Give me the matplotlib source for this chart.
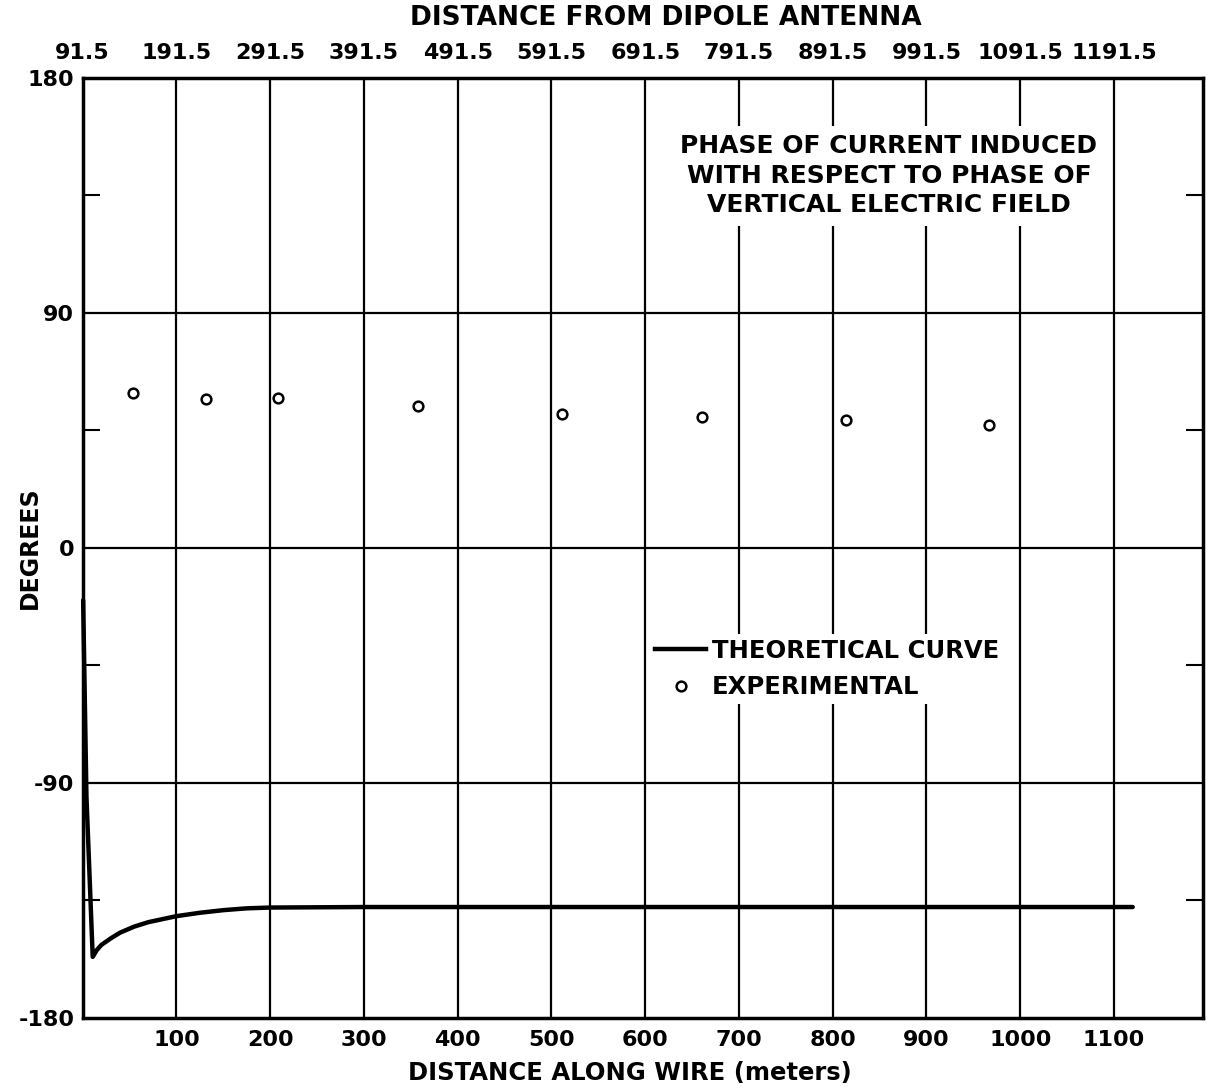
import matplotlib
matplotlib.use("Agg")
import matplotlib.pyplot as plt
from matplotlib.lines import Line2D

# ---- data ----
theory_x = [0.5, 4, 10.7, 15, 20, 30, 40, 55, 70, 100, 125, 150, 175, 200, 300, 600, 1120]
theory_y = [-20, -95, -156.6, -154, -152, -149.5, -147.3, -145, -143.3, -141, -139.7,
            -138.7, -138.0, -137.7, -137.5, -137.5, -137.5]

exp_x = [54, 132, 208, 358, 511, 661, 814, 967]
exp_y = [59.2, 56.9, 57.6, 54.2, 51.5, 50.2, 49.2, 47.1]

bottom_ticks = [100, 200, 300, 400, 500, 600, 700, 800, 900, 1000, 1100]
top_tick_pos = [0, 100, 200, 300, 400, 500, 600, 700, 800, 900, 1000, 1100]
top_tick_labels = ["91.5", "191.5", "291.5", "391.5", "491.5", "591.5", "691.5",
                   "791.5", "891.5", "991.5", "1091.5", "1191.5"]
y_major = [-180, -90, 0, 90, 180]
y_minor = [-135, -45, 45, 135]

plt.rcParams['font.family'] = ['DejaVu Sans']
TICK_FS = 16
NOTE_FS = 18
LEG_FS = 17.5

W, H = 1207, 1089
fig = plt.figure(figsize=(W / 100, H / 100), dpi=100)
ax = fig.add_axes([0.0685, 0.0652, 0.9282, 0.8632])

ax.set_xlim(0, 1195)
ax.set_ylim(-180, 180)

# grid
for gx in bottom_ticks:
    ax.axvline(gx, color='black', lw=1.6, zorder=1)
for gy in [-90, 0, 90]:
    ax.axhline(gy, color='black', lw=1.6, zorder=1)

for s in ax.spines.values():
    s.set_linewidth(2.5)

ax.set_xticks(bottom_ticks)
ax.set_xticklabels([str(t) for t in bottom_ticks], fontsize=TICK_FS, fontweight='bold')
ax.tick_params(axis='x', length=0, pad=9)

ax.set_yticks(y_major)
ax.set_yticklabels([str(t) for t in y_major], fontsize=TICK_FS, fontweight='bold')
ax.tick_params(axis='y', which='major', length=0, pad=6)
ax.set_yticks(y_minor, minor=True)
ax.tick_params(axis='y', which='minor', direction='in', length=12, width=1.5,
               left=True, right=True)

# top axis
ax2 = ax.secondary_xaxis('top')
ax2.set_xticks(top_tick_pos)
ax2.set_xticklabels(top_tick_labels, fontsize=TICK_FS, fontweight='bold')
ax2.tick_params(axis='x', length=0, pad=11)

fig.text(666 / W, 1 - 18 / H, "DISTANCE FROM DIPOLE ANTENNA", ha='center', va='center',
         fontsize=19, fontweight='bold')
fig.text(630 / W, 1 - 1073 / H, "DISTANCE ALONG WIRE (meters)", ha='center', va='center',
         fontsize=17.5, fontweight='bold')
ax.set_ylabel("DEGREES", fontsize=17, fontweight='bold')
ax.yaxis.set_label_coords(-0.036, 0.5)

# data
ax.plot(theory_x, theory_y, color='black', lw=3.2, solid_capstyle='round',
        solid_joinstyle='round', zorder=3, clip_on=False)
ax.plot(exp_x, exp_y, linestyle='none', marker='o', markersize=7, mfc='white',
        mec='black', mew=1.8, zorder=4)

# annotation text
ax.text(0.7197, 0.896, "PHASE OF CURRENT INDUCED\nWITH RESPECT TO PHASE OF\nVERTICAL ELECTRIC FIELD",
        transform=ax.transAxes, ha='center', va='center', fontsize=NOTE_FS, fontweight='bold',
        linespacing=1.3, zorder=5,
        bbox=dict(facecolor='white', edgecolor='none', pad=6))

handles = [Line2D([], [], color='black', lw=3.2),
           Line2D([], [], linestyle='none', marker='o', markersize=7, mfc='white',
                  mec='black', mew=1.8)]
leg = ax.legend(handles, ["THEORETICAL CURVE", "EXPERIMENTAL"], loc='upper left',
                bbox_to_anchor=(0.5065, 0.4085), frameon=True, fancybox=False,
                facecolor='white', edgecolor='none', framealpha=1,
                prop={'size': LEG_FS, 'weight': 'bold'}, handlelength=2.1,
                handletextpad=0.25, labelspacing=0.5, borderpad=0.2,
                borderaxespad=0)
leg.set_zorder(5)

fig.savefig("out.png", dpi=100, facecolor='white')
